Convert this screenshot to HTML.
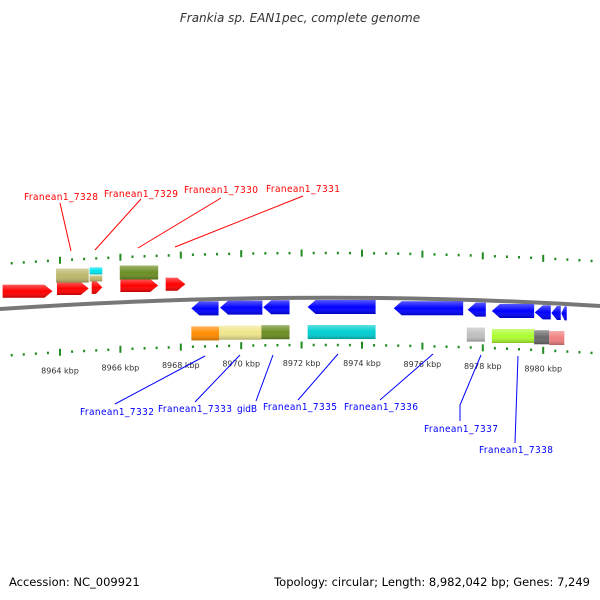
<!DOCTYPE html>
<html><head><meta charset="utf-8"><style>
body{margin:0;background:#fff;width:600px;height:600px;overflow:hidden}
svg{display:block}
.lbl{font-family:"DejaVu Sans Condensed","Liberation Sans",sans-serif;font-size:10px}
.kbp{font-family:"DejaVu Sans","Liberation Sans",sans-serif;font-size:8px;fill:#333}
.foot{font-family:"DejaVu Sans","Liberation Sans",sans-serif;font-size:11.5px;fill:#000}
</style></head><body>
<svg id="chart" width="600" height="600" viewBox="0 0 600 600">
<defs>
<linearGradient id="gsh" x1="0" y1="0" x2="0" y2="1"><stop offset="0" stop-color="#fff" stop-opacity="0.35"/><stop offset="0.5" stop-color="#fff" stop-opacity="0"/><stop offset="1" stop-color="#000" stop-opacity="0.25"/></linearGradient>
</defs>
<text x="300" y="22" text-anchor="middle" style="font-family:'DejaVu Sans','Liberation Sans',sans-serif;font-size:12px;font-style:italic;fill:#333">Frankia sp. EAN1pec, complete genome</text>
<path d="M0,309 Q310,288 600,306" fill="none" stroke="#777" stroke-width="4"/>
<g id="ticks"></g>
<g id="genes"></g>
<g id="labels"></g>
<text class="foot" x="9" y="586">Accession: NC_009921</text>
<text class="foot" x="590" y="586" text-anchor="end">Topology: circular; Length: 8,982,042 bp; Genes: 7,249</text>
</svg>
<script>
const tickLabels=[8964,8966,8968,8970,8972,8974,8976,8978,8980];
// genes: [startKbp, endKbp, strand, color]
const fwdGenes=[[8962.1,8963.75,1],[8963.9,8964.95,1],[8965.05,8965.4,1],[8966.0,8967.25,1],[8967.5,8968.15,1]];
const fwdBoxes=[[8963.87,8964.95,'#bdb76b'],[8964.98,8965.4,'#bdb76b'],[8965.98,8967.25,'#6b8e23']];
const revGenes=[[8968.35,8969.25],[8969.3,8970.7],[8970.73,8971.6],[8972.2,8974.45],[8975.05,8977.35],[8977.5,8978.1],[8978.3,8979.7],[8979.72,8980.25],[8980.27,8980.58],[8980.6,8980.78]];
const revBoxes=[[8968.35,8969.27,'#ff8c00'],[8969.27,8970.67,'#f0e68c'],[8970.67,8971.6,'#6b8e23'],[8972.2,8974.45,'#00ced1'],[8977.47,8978.07,'#c0c0c0'],[8978.3,8979.7,'#adff2f'],[8979.7,8980.2,'#696969'],[8980.2,8980.7,'#f08080']];
const NS='http://www.w3.org/2000/svg';
function X(k){return 60+(k-8964)*30.2;}
function curve(base,x){return base+11*Math.pow((x-320)/320,2);}
function mk(tag,attrs,parent){const e=document.createElementNS(NS,tag);for(const k in attrs)e.setAttribute(k,attrs[k]);parent.appendChild(e);return e;}
const tg=document.getElementById('ticks');
for(let i=0;i<=55;i++){
  const k=8962+i*0.4;const x=X(k);if(x<0||x>600)continue;
  const major=Math.abs((k-8964)/2-Math.round((k-8964)/2))<0.01;
  const h=major?7:2.5;
  for(const base of [253,345]){
    const y=curve(base,x)+(base===253?0:0);
    const t=mk('rect',{x:x-1,y:y-h/2,width:2,height:h,fill:'#228b22'},tg);
    
    
  }
}
tickLabels.forEach(k=>{const x=X(k);
  const t=mk('text',{x:x,y:curve(345,x)+21,'text-anchor':'middle',class:'kbp'},tg);t.textContent=k+' kbp';
  
  
});
const gg=document.getElementById('genes');
function arrow(x1,x2,yc,h,dir,color){
  const head=Math.min(8,(x2-x1)*0.6);let d;
  if(dir>0)d=`M${x1},${yc-h/2}L${x2-head},${yc-h/2}L${x2},${yc}L${x2-head},${yc+h/2}L${x1},${yc+h/2}Z`;
  else d=`M${x2},${yc-h/2}L${x1+head},${yc-h/2}L${x1},${yc}L${x1+head},${yc+h/2}L${x2},${yc+h/2}Z`;
  const p=mk('path',{d:d,fill:color},gg);
  
  
  mk('path',{d:d,fill:'url(#gsh)'},gg);
}
function box(x1,x2,y,h,color){
  const r=mk('rect',{x:x1,y:y,width:x2-x1,height:h,fill:color},gg);
  
  
  mk('rect',{x:x1,y:y,width:x2-x1,height:h,fill:'url(#gsh)'},gg);
}
fwdGenes.forEach(g=>{const x1=X(g[0]),x2=X(g[1]);arrow(x1,x2,curve(282,(x1+x2)/2),13,1,'#ff0000');});
fwdBoxes.forEach((g,i)=>{const x1=X(g[0]),x2=X(g[1]);const y=curve(262,(x1+x2)/2);
  if(i===1){box(x1,x2,y+8,6,g[2]);box(x1,x2,y,7,'#00e5ee');}else box(x1,x2,y,14,g[2]);});
revGenes.forEach(g=>{const x1=X(g[0]),x2=X(g[1]);arrow(x1,x2,curve(307,(x1+x2)/2),14,-1,'#0000ff');});
revBoxes.forEach(g=>{const x1=X(g[0]),x2=X(g[1]);box(x1,x2,curve(325,(x1+x2)/2),14,g[2]);});
const lg=document.getElementById('labels');
const redLabels=[['Franean1_7328',24,200,60,203,71,251],['Franean1_7329',104,197,141,199,95,250],['Franean1_7330',184,193,221,198,138,248],['Franean1_7331',266,192,303,196,175,247]];
const blueLabels=[['Franean1_7332',80,415,115,404,205,356],['Franean1_7333',158,412,195,402,240,355],['gidB',237,412,256,401,273,355],['Franean1_7335',263,410,298,400,338,354],['Franean1_7336',344,410,380,400,433,354],['Franean1_7337',424,432,460,405,481,355],['Franean1_7338',479,453,515,443,518,356]];
function lab(arr,color){arr.forEach(l=>{
  const line=mk('polyline',{points:l[0]==='Franean1_7337'?`460,421 ${l[3]},${l[4]} ${l[5]},${l[6]}`:`${l[3]},${l[4]} ${l[5]},${l[6]}`,fill:'none',stroke:color,'stroke-width':1},lg);
  
  
  const t=mk('text',{x:l[1],y:l[2],class:'lbl',fill:color},lg);
  if(l[0].length>5)t.setAttribute('textLength',74);
  t.textContent=l[0];
  
  
});}
lab(redLabels,'#ff0000');lab(blueLabels,'#0000ff');
</script>
</body></html>
